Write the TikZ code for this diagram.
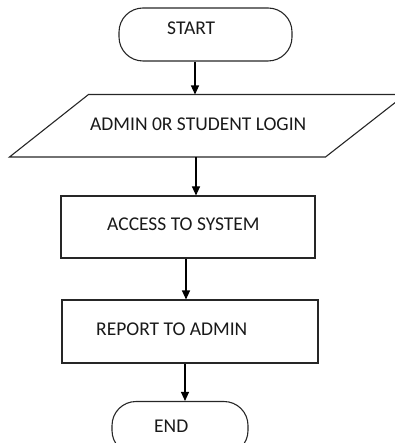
\documentclass[tikz,border=0pt]{standalone}
\usepackage{fontspec}
\setmainfont{Carlito}
\usetikzlibrary{arrows.meta}
\begin{document}
\begin{tikzpicture}[x=1pt,y=-1pt,
  shapeline/.style={draw=black!85,line width=1.1pt},
  term/.style={shapeline,rounded corners=24pt,inner sep=0pt},
  procbox/.style={shapeline,inner sep=0pt},
  lbl/.style={anchor=base west,inner sep=0pt,font=\fontsize{19.5}{22}\selectfont,text=black!90},
  arr/.style={draw=black,line width=1.1pt,-{Triangle[length=9pt,width=8pt]}}]
\useasboundingbox (0,0) rectangle (394,443);
% shapes
\node[term,minimum width=173pt,minimum height=53pt] (start) at (205.5,34.5) {};
\coordinate (p1) at (88.5,94.5);
\coordinate (p2) at (405.5,94.5);
\coordinate (p3) at (325.5,157);
\coordinate (p4) at (9.5,157);
\draw[shapeline,line join=miter] (p1) -- (p2) -- (p3) -- (p4) -- cycle;
\node[procbox,minimum width=254pt,minimum height=62pt] (access) at (188,227) {};
\node[procbox,minimum width=256pt,minimum height=63pt] (report) at (190,331.5) {};
\node[term,minimum width=136pt,minimum height=53pt] (endn) at (180,428) {};
% texts
\node[lbl] (tstart) at (167,35) {START};
\node[lbl] (tlogin) at (90,130.5) {ADMIN 0R STUDENT LOGIN};
\node[lbl] (taccess) at (107,230) {ACCESS TO SYSTEM};
\node[lbl] (treport) at (96,335) {REPORT TO ADMIN};
\node[lbl] (tend) at (154,432) {END};
% arrow columns
\coordinate (c1) at (195,0);
\coordinate (c2) at (196,0);
\coordinate (c3) at (186,0);
\coordinate (c4) at (185,0);
\draw[arr] (start.south -| c1) -- (p1 -| c1);
\draw[arr] (p4 -| c2) -- (access.north -| c2);
\draw[arr] (access.south -| c3) -- (report.north -| c3);
\draw[arr] (report.south -| c4) -- (endn.north -| c4);
\end{tikzpicture}
\end{document}
